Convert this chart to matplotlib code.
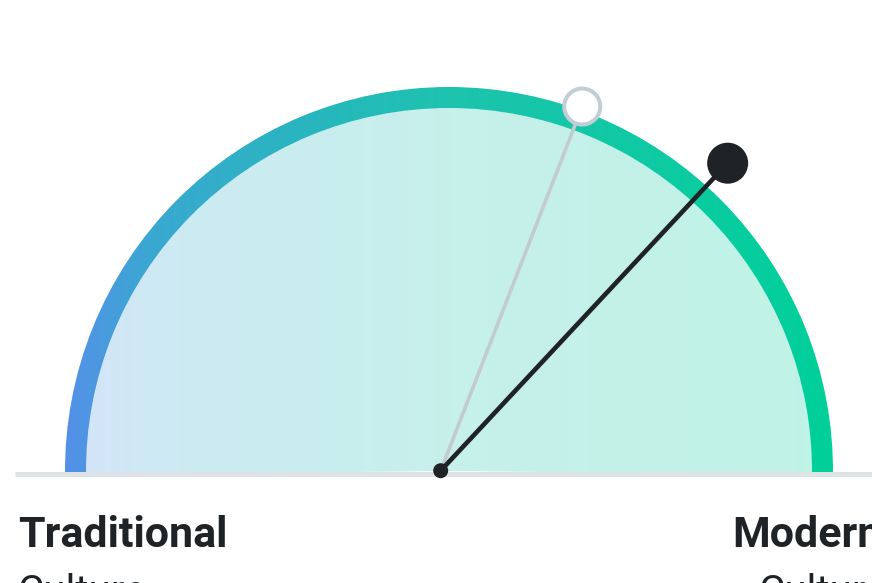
import numpy as np
import matplotlib
matplotlib.use("Agg")
import matplotlib.pyplot as plt
from matplotlib.patches import Wedge, Circle
from matplotlib.colors import LinearSegmentedColormap

# ---- data ----
left_labels = ["Traditional", "Culture"]
right_labels = ["Modern", "Culture"]
needle_names = ["current", "previous"]
needle_values = [73.9, 61.8]   # 0 = Traditional, 100 = Modern
scale_min, scale_max = 0, 100

# gradient stops (position across arc, colour)
grad_pos = [0.0, 0.11, 0.345, 0.5, 1.0]
grad_col = ["#5590e8", "#3aa8d2", "#26b8bc", "#1ec3ae", "#00d09a"]

W, H = 872, 583
fig = plt.figure(figsize=(W / 100, H / 100), dpi=100)
ax = fig.add_axes([0, 0, 1, 1])
ax.set_xlim(0, W)
ax.set_ylim(H, 0)
ax.axis("off")

cx, cy = 449, 471
R_out, arc_w = 384, 21
R_in = R_out - arc_w

cmap = LinearSegmentedColormap.from_list("g", list(zip(grad_pos, grad_col)))
xs = np.linspace(0, 1, 512)
grad = np.tile(xs, (2, 1))
ext = (cx - R_out, cx + R_out, cy + 4, cy - R_out)

# light fill
rgba = cmap(grad)
light = rgba.copy()
light[..., :3] = 1 - 0.25 * (1 - rgba[..., :3])
im_fill = ax.imshow(light, extent=ext, aspect="auto", zorder=1, interpolation="bilinear")
fill_clip = Wedge((cx, cy), R_in + 1, 179.4, 360.6, transform=ax.transData, facecolor="none", edgecolor="none")
ax.add_patch(fill_clip)
im_fill.set_clip_path(fill_clip)

# arc
im_arc = ax.imshow(rgba, extent=ext, aspect="auto", zorder=2, interpolation="bilinear")
arc_clip = Wedge((cx, cy), R_out, 179.4, 360.6, width=arc_w, transform=ax.transData, facecolor="none", edgecolor="none")
ax.add_patch(arc_clip)
im_arc.set_clip_path(arc_clip)

# baseline
ax.plot([15, W + 5], [473.5, 473.5], color="#dde3e6", lw=5 * 0.72, solid_capstyle="butt", zorder=3)

# needles
px, py = 440.7, 470.7
lengths = [420.6, 390.7]
styles = [
    dict(color="#1f2326", lw=4.6 * 0.72, z=6),
    dict(color="#c2cbd2", lw=3.6 * 0.72, z=4),
]
for val, L, st, name in zip(needle_values, lengths, styles, needle_names):
    a = np.deg2rad(180 - 180 * (val - scale_min) / (scale_max - scale_min))
    ex, ey = px + L * np.cos(a), py - L * np.sin(a)
    ax.plot([px, ex], [py, ey], color=st["color"], lw=st["lw"], solid_capstyle="round", zorder=st["z"])
    if name == "current":
        ax.add_patch(Circle((ex, ey), 20.5, facecolor=st["color"], edgecolor="none", zorder=st["z"] + 0.5))
    else:
        ax.add_patch(Circle((ex, ey), 18, facecolor="white", edgecolor="#c2cdd4", lw=4 * 0.72, zorder=st["z"] + 0.5))

ax.add_patch(Circle((px, py), 7.5, facecolor="#1f2326", edgecolor="none", zorder=7))

# labels
fam = ["Roboto", "DejaVu Sans"]
ax.text(18, 547, left_labels[0], fontsize=31, fontweight="bold", color="#1f2326",
        family=fam, ha="left", va="baseline", zorder=8)
ax.text(18, 604, left_labels[1], fontsize=29, color="#1f2326",
        family=fam, ha="left", va="baseline", zorder=8)
ax.text(732, 547, right_labels[0], fontsize=31, fontweight="bold", color="#1f2326",
        family=fam, ha="left", va="baseline", zorder=8)
ax.text(759, 604, right_labels[1], fontsize=29, color="#1f2326",
        family=fam, ha="left", va="baseline", zorder=8)

fig.savefig("out.png", dpi=100, facecolor="white")
